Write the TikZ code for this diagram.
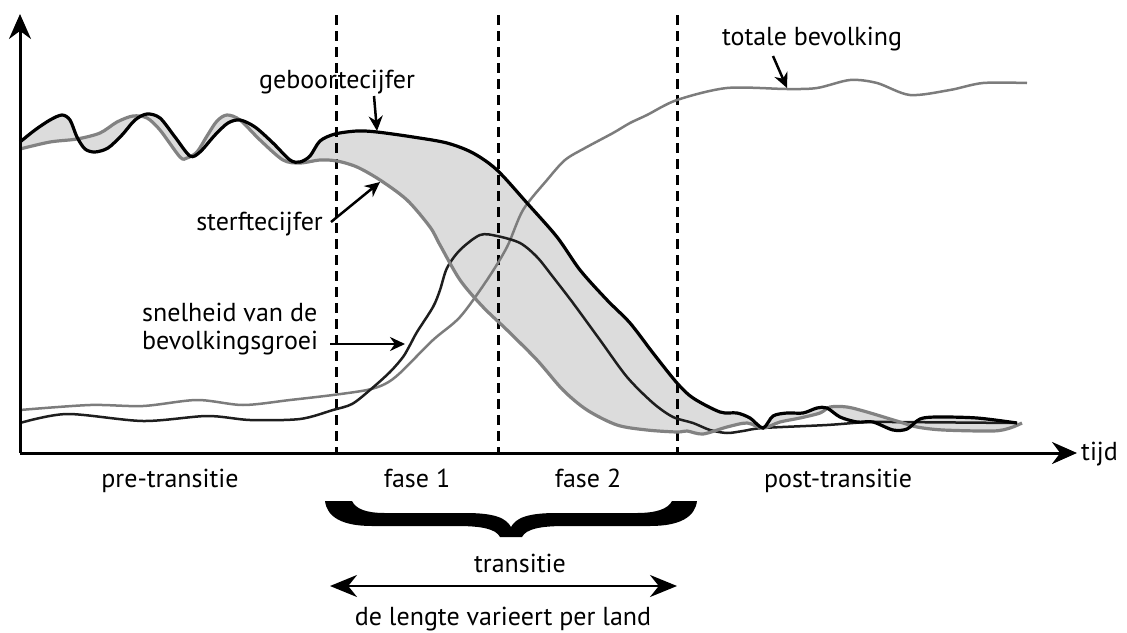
\documentclass[tikz,border=0pt]{standalone}
\usepackage{fontspec}
\setmainfont{PT Sans}
\usetikzlibrary{arrows.meta}
\definecolor{fillg}{HTML}{DCDCDC}
\definecolor{deathg}{HTML}{828282}
\definecolor{totg}{HTML}{7C7C7C}
\definecolor{growk}{HTML}{1E1E1E}
\begin{document}
\begin{tikzpicture}[x=1pt,y=-1pt,
  lbl/.style={font=\fontsize{26}{30}\selectfont, inner sep=0pt, text=black},
  axisline/.style={line width=3pt, -{Stealth[length=25pt,width=22pt]}},
  dashline/.style={line width=3pt, dash pattern=on 10pt off 6pt},
  lblarrow/.style={line width=2.5pt, -{Stealth[length=15pt,width=14pt]}},
  birthline/.style={line width=3.2pt, black},
  deathline/.style={line width=3.2pt, deathg},
  growline/.style={line width=2.5pt, growk},
  totline/.style={line width=2.5pt, totg},
  spanarrow/.style={line width=2.6pt, {Stealth[length=27pt,width=22pt]}-{Stealth[length=27pt,width=22pt]}}
]
\useasboundingbox (0,0) rectangle (1127,632);

% fill between birth and death rate
\fill[fillg] plot[smooth] coordinates {(20,142) (35,130) (50,120) (62,115) (70,120) (77,137) (85,149) (95,152) (108,148) (122,135) (135,120) (147,114) (160,118) (175,137) (190,156) (200,152) (215,135) (228,123) (240,120) (255,127) (273,143) (290,160) (300,162) (310,156) (320,141) (335,134) (357,131) (377,132) (413,137) (447,143) (473,153) (497,170) (527,203) (557,237) (580,270) (607,300) (630,323) (653,353) (677,383) (693,398) (720,412) (737,413) (750,418) (763,428) (773,416) (787,413) (803,413) (817,408) (827,408) (840,417) (857,422) (873,422) (893,430) (907,429) (920,419) (937,417) (977,418) (1017,423)}
 -- plot[smooth] coordinates {(1022,423) (1010,428) (993,431) (943,430) (917,427) (900,422) (867,412) (847,407) (830,407) (820,413) (800,418) (780,422) (763,428) (747,423) (727,427) (703,434) (687,431) (677,432) (647,430) (617,425) (587,410) (563,390) (537,360) (507,330) (483,307) (460,280) (440,245) (430,227) (407,200) (380,180) (357,167) (337,161) (320,160) (300,163) (283,160) (260,140) (240,120) (227,115) (217,121) (207,136) (197,152) (187,158) (180,157) (160,130) (147,118) (133,116) (117,122) (100,133) (77,139) (50,142) (20,149)} -- cycle;

% phase boundaries
\draw[dashline] (336,15) -- (336,453);
\draw[dashline] (498,15) -- (498,453);
\draw[dashline] (677,15) -- (677,453);

% total population
\draw[totline] plot[smooth] coordinates {(20,410) (90,405) (143,406) (197,400) (243,405) (290,400) (333,395) (367,390) (385,384) (400,373) (433,340) (460,317) (487,280) (507,247) (523,210) (547,180) (565,160) (585,148) (613,133) (630,123) (647,115) (677,100) (727,88) (787,89) (817,88) (850,80) (877,83) (910,95) (950,90) (983,83) (1027,83)};

% growth speed
\draw[growline] plot[smooth] coordinates {(20,423) (67,414) (143,421) (207,416) (250,420) (300,419) (333,410) (352,404) (370,390) (390,372) (403,357) (410,345) (417,332) (433,307) (440,290) (447,268) (460,250) (480,235) (497,236) (520,243) (537,257) (553,277) (573,303) (600,340) (627,377) (653,403) (673,417) (693,423) (710,430) (727,433) (743,431) (763,428) (827,425) (867,422) (893,422) (1017,423)};

% death rate
\draw[deathline] plot[smooth] coordinates {(20,149) (50,142) (77,139) (100,133) (117,122) (133,116) (147,118) (160,130) (180,157) (187,158) (197,152) (207,136) (217,121) (227,115) (240,120) (260,140) (283,160) (300,163) (320,160) (337,161) (357,167) (380,180) (407,200) (430,227) (440,245) (460,280) (483,307) (507,330) (537,360) (563,390) (587,410) (617,425) (647,430) (677,432) (687,431) (703,434) (727,427) (747,423) (763,428) (780,422) (800,418) (820,413) (830,407) (847,407) (867,412) (900,422) (917,427) (943,430) (993,431) (1010,428) (1022,423)};

% birth rate
\draw[birthline] plot[smooth] coordinates {(20,142) (35,130) (50,120) (62,115) (70,120) (77,137) (85,149) (95,152) (108,148) (122,135) (135,120) (147,114) (160,118) (175,137) (190,156) (200,152) (215,135) (228,123) (240,120) (255,127) (273,143) (290,160) (300,162) (310,156) (320,141) (335,134) (357,131) (377,132) (413,137) (447,143) (473,153) (497,170) (527,203) (557,237) (580,270) (607,300) (630,323) (653,353) (677,383) (693,398) (720,412) (737,413) (750,418) (763,428) (773,416) (787,413) (803,413) (817,408) (827,408) (840,417) (857,422) (873,422) (893,430) (907,429) (920,419) (937,417) (977,418) (1017,423)};

% axes
\coordinate (origin) at (20,453);
\coordinate (ytop) at (20,14);
\coordinate (xend) at (1077,453);
\draw[axisline] (origin) -- (ytop);
\draw[axisline] (origin) -- (xend);
\node[lbl, anchor=base west] (tijd) at (1081,460) {tijd};

% phase labels
\node[lbl, anchor=base] (pre) at (170,487) {pre-transitie};
\node[lbl, anchor=base] (f1) at (417,487) {fase 1};
\node[lbl, anchor=base] (f2) at (588,487) {fase 2};
\node[lbl, anchor=base] (post) at (838,487) {post-transitie};

% brace
\fill[black] (325,501) -- (352,501) .. controls (356,509) and (366,513) .. (385,513) -- (465,513) .. controls (495,513) and (506,518) .. (511,527) .. controls (516,518) and (527,513) .. (557,513) -- (637,513) .. controls (656,513) and (668,509) .. (672,501) -- (697,501) .. controls (695,517) and (680,526) .. (650,526) -- (565,526) .. controls (540,526) and (526,529) .. (522,537) -- (500,537) .. controls (496,529) and (482,526) .. (457,526) -- (372,526) .. controls (342,526) and (327,517) .. (325,501) -- cycle;

\node[lbl, anchor=base] (trans) at (520,572) {transitie};
\coordinate (spanL) at (330,586);
\coordinate (spanR) at (677,586);
\draw[spanarrow] (spanL) -- (spanR);
\node[lbl, anchor=base] (lengte) at (503,625) {de lengte varieert per land};

% curve labels
\node[lbl, anchor=base] (geb) at (337,88) {geboortecijfer};
\coordinate (gebS) at (374,96);
\coordinate (gebT) at (377,131);
\draw[lblarrow] (gebS) -- (gebT);

\node[lbl, anchor=base] (tot) at (812,45) {totale bevolking};
\coordinate (totS) at (773,56);
\coordinate (totT) at (787,88);
\draw[lblarrow] (totS) -- (totT);

\node[lbl, anchor=base east] (sterf) at (323,230) {sterftecijfer};
\coordinate (sterfS) at (331,222);
\coordinate (sterfT) at (380,182);
\draw[lblarrow] (sterfS) -- (sterfT);

\node[lbl, anchor=base west] (snel1) at (142,321) {snelheid van de};
\node[lbl, anchor=base west] (snel2) at (142,349) {bevolkingsgroei};
\coordinate (snelS) at (330,344);
\coordinate (snelT) at (405,344);
\draw[lblarrow] (snelS) -- (snelT);
\end{tikzpicture}
\end{document}
